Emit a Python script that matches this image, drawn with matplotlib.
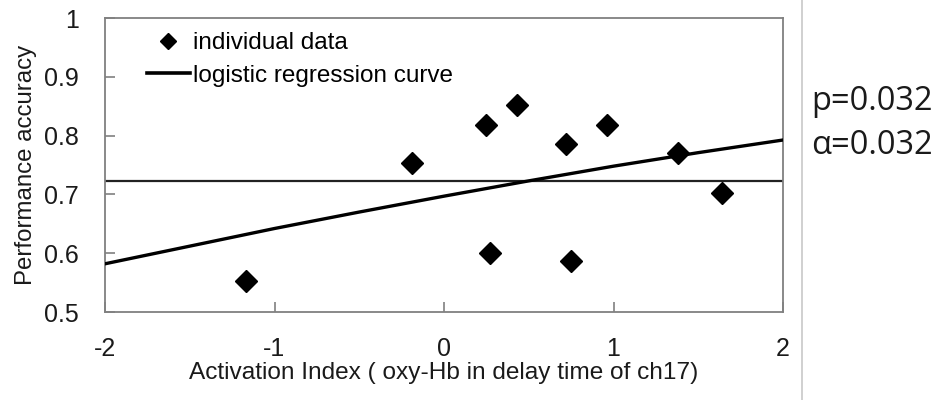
import matplotlib
matplotlib.use("Agg")
import matplotlib.pyplot as plt
from matplotlib.lines import Line2D

# individual data
act_index = [-1.17, -0.19, 0.25, 0.27, 0.43, 0.72, 0.75, 0.96, 1.38, 1.64]
accuracy = [0.552, 0.753, 0.818, 0.601, 0.852, 0.785, 0.586, 0.818, 0.770, 0.702]

# logistic regression curve
curve_x = [-2.0, -1.5, -1.0, -0.5, 0.0, 0.5, 1.0, 1.5, 2.0]
curve_y = [0.582, 0.612, 0.642, 0.670, 0.697, 0.723, 0.748, 0.771, 0.7925]

chance_level = 0.722

x_ticks = [-2, -1, 0, 1, 2]
y_ticks = [0.5, 0.6, 0.7, 0.8, 0.9, 1.0]
y_ticklabels = ["0.5", "0.6", "0.7", "0.8", "0.9", "1"]

plt.rcParams['font.family'] = ['Liberation Sans', 'DejaVu Sans']

fig = plt.figure(figsize=(9.39, 4.0), dpi=100)
ax = fig.add_axes([105/939, 1-312/400, (783-105)/939, (312-18)/400])

ax.axhline(chance_level, color='#222222', lw=1.6, zorder=2)
ax.plot(curve_x, curve_y, color='black', lw=2.4, zorder=3)
ax.plot(act_index, accuracy, linestyle='none', marker='D', markersize=11.5,
        color='black', zorder=4)

ax.set_xlim(-2, 2)
ax.set_ylim(0.5, 1.0)
ax.set_xticks(x_ticks)
ax.set_xticklabels([str(t) for t in x_ticks])
ax.set_yticks(y_ticks)
ax.set_yticklabels(y_ticklabels)
ax.tick_params(axis='both', direction='in', length=7, width=1.2, color='#808080',
               labelsize=18, labelcolor='#1a1a1a')
ax.tick_params(axis='y', pad=19)
ax.tick_params(axis='x', pad=18)
ax.tick_params(top=False, right=False)
for s in ax.spines.values():
    s.set_color('#808080')
    s.set_linewidth(1.3)

ax.set_xlabel('Activation Index ( oxy-Hb in delay time of ch17)', fontsize=17.6,
              color='#1a1a1a', labelpad=1)
ax.set_ylabel('Performance accuracy', fontsize=17.3, color='#1a1a1a', labelpad=5)

handles = [Line2D([], [], linestyle='none', marker='D', markersize=8.5, color='black'),
           Line2D([], [], color='black', lw=2.6)]
ax.legend(handles, ['individual data', 'logistic regression curve'],
          loc='upper left', bbox_to_anchor=(147/939, 1-32/400), bbox_transform=fig.transFigure,
          frameon=False, fontsize=17.5, handlelength=1.75, handletextpad=0.15,
          labelspacing=0.45, borderpad=0, borderaxespad=0)

fig.add_artist(Line2D([802/939, 802/939], [0, 1], transform=fig.transFigure,
                      color='#c8c8c8', lw=1.2))

fig.text(811/939, 1-102/400, 'p=0.032', fontsize=23.5, family=['Open Sans', 'DejaVu Sans'],
         va='center', ha='left', color='#1a1a1a')
fig.text(811/939, 1-145/400, 'α=0.032', fontsize=23.5, family=['Open Sans', 'DejaVu Sans'],
         va='center', ha='left', color='#1a1a1a')

fig.savefig('out.png', dpi=100)
